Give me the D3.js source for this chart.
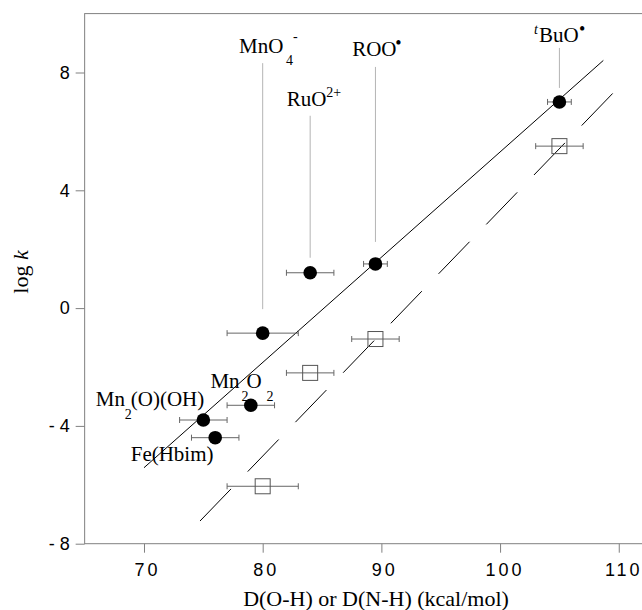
<!DOCTYPE html>
<html>
<head>
  <meta charset="utf-8">
  <title>log k vs D(O-H)</title>
  <script src="https://d3js.org/d3.v7.min.js"></script>
  <style>
    body { margin: 0; background: #fff; }
    svg { display: block; }
  </style>
</head>
<body>
<script>
  // data
  var bdeFilled  = [105, 89.5, 84, 80, 79, 75, 76];
  var logkFilled = [7.0, 1.5, 1.2, -0.85, -3.3, -3.8, -4.4];
  var errFilled  = [1, 1, 2, 3, 2, 2, 2];

  var bdeOpen  = [105, 89.5, 84, 80];
  var logkOpen = [5.5, -1.05, -2.2, -6.05];
  var errOpen  = [2, 2, 2, 3];

  var solidFitX = [70, 108.7];
  var solidFitY = [-5.42, 8.41];
  var dashFitX  = [74.72, 109.49];
  var dashFitY  = [-7.23, 7.29];

  var xTicks = [70, 80, 90, 100, 110];
  var yTicks = [8, 4, 0, -4, -8];

  var width = 642, height = 610;
  var serif = "'Liberation Serif', 'Times New Roman', serif";
  var sans = "'Liberation Sans', Arial, sans-serif";

  var svg = d3.select("body").append("svg")
    .attr("width", width).attr("height", height);

  var x = d3.scaleLinear().domain([65, 112]).range([84.65, 642.5]);
  var y = d3.scaleLinear().domain([-8, 10]).range([543.7, 13.6]);

  // frame
  svg.append("rect")
    .attr("x", x(65)).attr("y", y(10))
    .attr("width", x(112) - x(65) + 2).attr("height", y(-8) - y(10))
    .attr("fill", "none").attr("stroke", "#808080").attr("stroke-width", 1);

  // axes
  var gy = svg.append("g").attr("transform", "translate(" + x(65) + ",0)")
    .call(d3.axisLeft(y).tickValues(yTicks).tickSize(9).tickPadding(6)
      .tickFormat(function(d) { return d < 0 ? "- " + Math.abs(d) : d; }));
  var gx = svg.append("g").attr("transform", "translate(0," + y(-8) + ")")
    .call(d3.axisBottom(x).tickValues(xTicks).tickSize(9).tickPadding(11));
  [gx, gy].forEach(function(g) {
    g.select(".domain").remove();
    g.selectAll("line").attr("stroke", "#808080");
    g.selectAll("text").attr("fill", "#000")
      .style("font-family", sans).style("font-size", "18px");
  });
  gx.selectAll("text").style("letter-spacing", "3px")
    .attr("dx", function(d) { return String(d).length * 1.5; });

  // axis titles
  svg.append("text")
    .attr("x", 376).attr("y", 606).attr("text-anchor", "middle")
    .style("font-family", serif).style("font-size", "22px")
    .text("D(O-H) or D(N-H) (kcal/mol)");
  var yl = svg.append("text")
    .attr("transform", "translate(28,272) rotate(-90)").attr("text-anchor", "middle")
    .style("font-family", serif).style("font-size", "22px");
  yl.append("tspan").text("log ");
  yl.append("tspan").style("font-style", "italic").text("k");

  // fit lines
  var line = d3.line().x(function(d) { return x(d[0]); }).y(function(d) { return y(d[1]); });
  svg.append("path")
    .attr("d", line(d3.zip(solidFitX, solidFitY)))
    .attr("fill", "none").attr("stroke", "#000").attr("stroke-width", 1);
  svg.append("path")
    .attr("d", line(d3.zip(dashFitX, dashFitY)))
    .attr("fill", "none").attr("stroke", "#000").attr("stroke-width", 1)
    .attr("stroke-dasharray", "44.6,24.1");

  // error bars
  function errorBars(xs, ys, es, cls) {
    var g = svg.append("g").attr("class", cls)
      .attr("stroke", "#666").attr("stroke-width", 1).attr("fill", "none");
    xs.forEach(function(v, i) {
      var cy = y(ys[i]), x0 = x(v - es[i]), x1 = x(v + es[i]);
      g.append("line").attr("x1", x0).attr("x2", x1).attr("y1", cy).attr("y2", cy);
      g.append("line").attr("x1", x0).attr("x2", x0).attr("y1", cy - 3).attr("y2", cy + 3);
      g.append("line").attr("x1", x1).attr("x2", x1).attr("y1", cy - 3).attr("y2", cy + 3);
    });
  }
  errorBars(bdeOpen, logkOpen, errOpen, "err-open");
  errorBars(bdeFilled, logkFilled, errFilled, "err-filled");

  // open squares
  svg.append("g").selectAll("rect")
    .data(d3.zip(bdeOpen, logkOpen))
    .join("rect")
    .attr("x", function(d) { return x(d[0]) - 7.5; })
    .attr("y", function(d) { return y(d[1]) - 7.5; })
    .attr("width", 15).attr("height", 15)
    .attr("fill", "none").attr("stroke", "#555").attr("stroke-width", 1);

  // filled circles
  svg.append("g").selectAll("circle")
    .data(d3.zip(bdeFilled, logkFilled))
    .join("circle")
    .attr("cx", function(d) { return x(d[0]); })
    .attr("cy", function(d) { return y(d[1]); })
    .attr("r", 6.8).attr("fill", "#000");

  // leader lines: [point index, top offset, bottom offset]
  var leaders = [[0, -54, -14], [1, -197, -22], [2, -157, -15], [3, -270, -24]];
  leaders.forEach(function(l) {
    var px = x(bdeFilled[l[0]]), py = y(logkFilled[l[0]]);
    svg.append("line")
      .attr("x1", px).attr("x2", px).attr("y1", py + l[1]).attr("y2", py + l[2])
      .attr("stroke", "#b4b4b4").attr("stroke-width", 1);
  });

  // labels: point index, offset of text anchor, pieces [text, dx, dy, size, italic]
  var labels = [
    [0, -20.4, -60, [["t", -5, -8, 14, true], ["BuO", 0, 0, 21], ["\u2022", 40, -7, 18]]],
    [1, -23.3, -207.5, [["ROO", 0, 0, 21], ["\u2022", 43, -7, 18]]],
    [2, -23.5, -167, [["RuO", 0, 0, 21], ["2+", 39.5, -9, 14]]],
    [3, -23.7, -280, [["MnO", 0, 0, 21], ["4", 47, 12, 14], ["-", 54, -12, 14]]],
    [4, -40.4, -17, [["Mn", 0, 0, 21], ["O", 36, 0, 21], ["2", 31, 13, 14], ["2", 56, 13, 14]]],
    [5, -107.6, -14, [["Mn", 0, 0, 21], ["2", 29, 13, 14], ["(O)(OH)", 35, 0, 21]]],
    [6, -84.5, 23, [["Fe(Hbim)", 0, 0, 21]]]
  ];
  labels.forEach(function(l) {
    var ax = x(bdeFilled[l[0]]) + l[1], ay = y(logkFilled[l[0]]) + l[2];
    l[3].forEach(function(p) {
      svg.append("text")
        .attr("x", ax + p[1]).attr("y", ay + p[2])
        .style("font-family", serif).style("font-size", p[3] + "px")
        .style("font-style", p[4] ? "italic" : "normal")
        .text(p[0]);
    });
  });
</script>
</body>
</html>
